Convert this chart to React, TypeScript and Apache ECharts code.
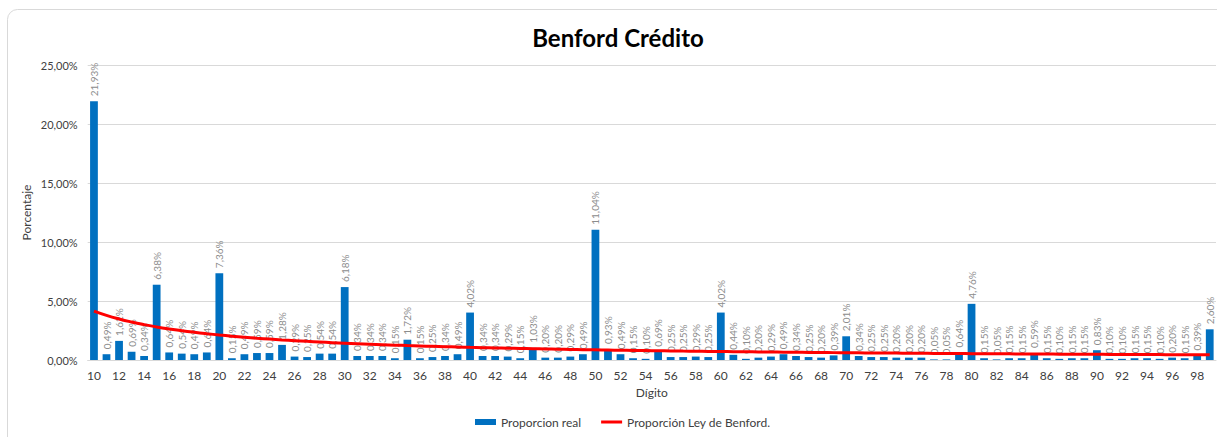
import React, { useEffect, useRef } from "react";
import * as echarts from "echarts";

const digits: string[] = [];
for (let d = 10; d <= 99; d++) digits.push(String(d));

const realValues = [
  21.93, 0.49, 1.62, 0.69, 0.34, 6.38, 0.64, 0.54, 0.49, 0.64,
  7.36, 0.15, 0.49, 0.59, 0.59, 1.28, 0.29, 0.25, 0.54, 0.54,
  6.18, 0.34, 0.34, 0.34, 0.15, 1.72, 0.15, 0.25, 0.34, 0.49,
  4.02, 0.34, 0.34, 0.29, 0.15, 1.03, 0.20, 0.20, 0.29, 0.49,
  11.04, 0.93, 0.49, 0.15, 0.10, 0.69, 0.25, 0.25, 0.29, 0.25,
  4.02, 0.44, 0.10, 0.20, 0.29, 0.49, 0.34, 0.25, 0.20, 0.39,
  2.01, 0.34, 0.25, 0.25, 0.20, 0.20, 0.20, 0.05, 0.05, 0.64,
  4.76, 0.15, 0.05, 0.15, 0.15, 0.59, 0.15, 0.10, 0.15, 0.15,
  0.83, 0.10, 0.10, 0.15, 0.15, 0.10, 0.20, 0.15, 0.39, 2.60,
];

const benfordValues = [
  4.139, 3.779, 3.476, 3.218, 2.996, 2.803, 2.633, 2.482, 2.348, 2.228,
  2.119, 2.020, 1.931, 1.848, 1.773, 1.703, 1.639, 1.579, 1.524, 1.472,
  1.424, 1.379, 1.336, 1.296, 1.259, 1.223, 1.190, 1.158, 1.128, 1.100,
  1.072, 1.047, 1.022, 0.998, 0.976, 0.955, 0.934, 0.914, 0.896, 0.877,
  0.860, 0.843, 0.827, 0.812, 0.797, 0.783, 0.769, 0.755, 0.742, 0.730,
  0.718, 0.706, 0.695, 0.684, 0.673, 0.663, 0.653, 0.643, 0.634, 0.625,
  0.616, 0.607, 0.599, 0.591, 0.583, 0.575, 0.568, 0.561, 0.554, 0.547,
  0.540, 0.533, 0.527, 0.521, 0.515, 0.509, 0.503, 0.497, 0.492, 0.487,
  0.481, 0.476, 0.471, 0.466, 0.461, 0.457, 0.452, 0.448, 0.443, 0.439,
];

const fmt = (v: number) => v.toFixed(2).replace(".", ",") + "%";
const FONT = "Lato, 'Open Sans', sans-serif";

export default function App() {
  const ref = useRef<HTMLDivElement>(null);
  useEffect(() => {
    if (!ref.current) return;
    const chart = echarts.init(ref.current, undefined, { renderer: "svg" });
    chart.setOption({
      animation: false,
      backgroundColor: "#ffffff",
      textStyle: { fontFamily: FONT },
      graphic: [
        {
          type: "rect",
          shape: { x: 7.5, y: 9.5, width: 1230, height: 450, r: 10 },
          style: { fill: "none", stroke: "#d9d9d9", lineWidth: 1 },
          silent: true,
        },
      ],
      title: {
        text: "Benford Crédito",
        left: 613,
        textAlign: "center",
        top: 20,
        textStyle: { fontSize: 24, fontWeight: "bold", color: "#000000", fontFamily: FONT },
      },
      grid: { left: 87.7, right: 1, top: 65, bottom: 77, containLabel: false },
      legend: {
        bottom: 4,
        left: 470,
        itemGap: 20,
        itemWidth: 21,
        itemHeight: 6,
        textStyle: { fontSize: 12, color: "#404040", fontFamily: FONT },
        data: [
          { name: "Proporcion real", icon: "rect" },
          {
            name: "Proporción Ley de Benford.",
            icon: "path://M0,0 L21,0 L21,3 L0,3 Z",
            itemStyle: { color: "#ff0000" },
          },
        ],
      },
      xAxis: {
        type: "category",
        data: digits,
        name: "Dígito",
        nameLocation: "middle",
        nameGap: 26,
        nameMoveOverlap: false,
        nameTextStyle: { fontSize: 12, color: "#404040" },
        axisTick: { show: false },
        axisLine: { lineStyle: { color: "#d9d9d9" } },
        axisLabel: { interval: 1, fontSize: 12, color: "#404040", margin: 9 },
      },
      yAxis: {
        type: "value",
        min: 0,
        max: 25,
        interval: 5,
        name: "Porcentaje",
        nameLocation: "middle",
        nameGap: 55,
        nameMoveOverlap: false,
        nameTextStyle: { fontSize: 12, color: "#404040" },
        axisLabel: { formatter: (v: number) => fmt(v), fontSize: 11, color: "#404040", margin: 10 },
        splitLine: { lineStyle: { color: "#d9d9d9" } },
        axisLine: { show: false },
        axisTick: { show: false },
      },
      series: [
        {
          name: "Proporcion real",
          type: "bar",
          data: realValues,
          barWidth: "62%",
          itemStyle: { color: "#0070c0" },
          label: {
            show: true,
            position: "top",
            rotate: 90,
            align: "left",
            verticalAlign: "middle",
            distance: 5,
            fontSize: 10,
            color: "#8c8c8c",
            formatter: (p: any) => fmt(p.value),
          },
        },
        {
          name: "Proporción Ley de Benford.",
          type: "line",
          data: benfordValues,
          smooth: true,
          symbol: "none",
          lineStyle: { color: "#ff0000", width: 3 },
          itemStyle: { color: "#ff0000" },
          z: 5,
        },
      ],
    });
    return () => chart.dispose();
  }, []);
  return (
    <div
      ref={ref}
      style={{ position: "fixed", left: 0, top: 0, width: 1217, height: 437 }}
    />
  );
}
